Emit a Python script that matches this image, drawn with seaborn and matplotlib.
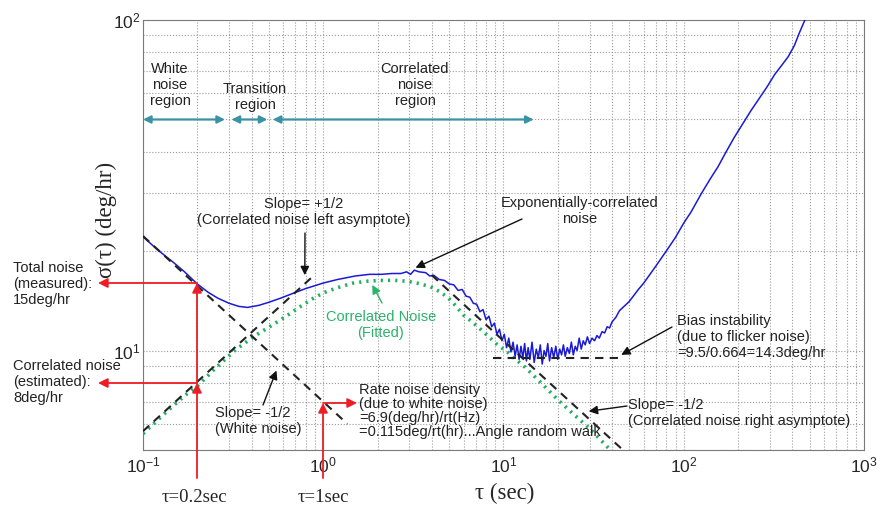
import numpy as np
import pandas as pd
import matplotlib
matplotlib.use("Agg")
import matplotlib.pyplot as plt
import seaborn as sns

# ---------------- data ----------------
measured_tau = [0.1, 0.12, 0.147, 0.17, 0.2, 0.23, 0.26, 0.3, 0.34, 0.38, 0.44, 0.5, 0.58,
                0.66, 0.8, 1.0, 1.2, 1.5, 1.8, 2.1, 2.4, 2.7, 2.9, 3.05, 3.2, 3.4, 3.7,
                3.9, 4.1, 4.4, 4.7, 5.0, 5.3, 5.6, 5.9, 6.2, 6.5, 6.8, 7.1, 7.4, 7.7,
                8.0, 8.3, 8.6, 8.9, 9.2, 9.5, 9.8, 10.1, 10.4, 10.7, 11.0, 11.3, 11.6,
                11.9, 12.2, 12.5, 12.8, 13.1, 13.4, 13.7, 14.0, 14.4, 14.8, 15.2, 15.6,
                16.0, 16.4, 16.8, 17.2, 17.6, 18.0, 18.5, 19.0, 19.5, 20.0, 20.5, 21.0,
                21.5, 22.0, 22.6, 23.2, 23.8, 24.4, 25.0, 25.6, 26.3, 27.0, 27.7, 28.4,
                29.2, 30.0, 31.0, 32.0, 33.0, 34.0, 35.2, 36.4, 37.6, 38.8, 40.0, 42.0,
                44.0, 46.0, 48.0, 50.0, 53.0, 56.0, 60.0, 65.0, 70.0, 75.0, 81.0, 90.0,
                100, 110, 125, 140, 155, 170, 190, 210, 235, 260, 290, 320, 350, 380,
                410, 440, 470, 480]
measured_sigma = [22.1, 20.2, 18.5, 17.3, 15.9, 15.0, 14.4, 13.9, 13.6, 13.5, 13.7, 14.0, 14.4,
                  14.8, 15.4, 16.0, 16.4, 16.8, 17.0, 17.0, 17.1, 17.1, 17.3, 17.0, 17.5, 17.3, 17.2,
                  16.8, 16.9, 16.4, 16.3, 15.9, 15.8, 15.2, 15.3, 14.6, 14.5, 13.9, 13.8, 13.1, 13.3,
                  12.4, 12.7, 11.8, 12.1, 11.2, 11.6, 10.7, 11.2, 10.2, 10.9, 9.9, 10.6, 9.6,
                  10.4, 9.4, 10.3, 9.5, 10.5, 9.3, 10.2, 9.4, 10.6, 9.2, 10.1, 9.5,
                  10.4, 9.1, 10.0, 9.6, 10.5, 9.3, 10.2, 9.5, 10.3, 9.4, 10.1, 9.7,
                  10.4, 9.6, 10.2, 9.8, 10.6, 9.7, 10.3, 10.0, 10.9, 10.1, 10.7, 10.4,
                  11.0, 10.5, 10.9, 10.7, 11.1, 10.9, 11.4, 11.3, 11.8, 11.7, 12.2, 12.6,
                  13.2, 13.5, 13.8, 14.1, 14.7, 15.3, 16.0, 17.0, 18.0, 19.0, 20.2, 22.0,
                  24.3, 26.3, 29.8, 33.0, 36.0, 39.5, 44.0, 48.0, 53.0, 57.5, 62.8, 68.5, 73.0, 77.5,
                  83.5, 92.0, 100.0, 103.0]

fitted_tau = [0.1, 0.13, 0.17, 0.2, 0.25, 0.33, 0.42, 0.53, 0.65, 0.75, 0.9, 1.05, 1.25, 1.47,
              1.75, 2.07, 2.5, 2.93, 3.3, 3.93, 4.4, 4.89, 5.4, 6.0, 6.7, 7.45, 8.3, 9.26,
              10.5, 11.4, 12.9, 16.1, 20.0, 24.6, 30.4, 37.8, 40.0]
fitted_sigma = [5.6, 6.4, 7.3, 7.8, 8.8, 10.1, 11.1, 12.0, 12.9, 13.6, 14.5, 15.1, 15.6, 16.0,
                16.2, 16.3, 16.3, 16.2, 16.0, 15.6, 15.1, 14.5, 13.7, 12.8, 12.2, 11.6, 11.0, 10.4,
                9.9, 9.5, 9.0, 8.0, 7.1, 6.4, 5.77, 5.1, 4.95]

white_tau = [0.1, 1.36]
white_sigma = [22.2, 6.0]
left_asym_tau = [0.1, 0.88]
left_asym_sigma = [5.7, 16.8]
right_asym_tau = [4.0, 46.0]
right_asym_sigma = [16.9, 5.0]
bias_tau = [8.7, 45.0]
bias_sigma = [9.5, 9.5]

region_names = ["White\nnoise\nregion", "Transition\nregion", "Correlated\nnoise\nregion"]
region_start = [0.1, 0.31, 0.525]
region_end = [0.285, 0.49, 14.7]
region_level = 50

x_ticks = [0.1, 1, 10, 100, 1000]
x_tick_labels = [r"$10^{-1}$", r"$10^{0}$", r"$10^{1}$", r"$10^{2}$", r"$10^{3}$"]
y_ticks = [10, 100]
y_tick_labels = [r"$10^{1}$", r"$10^{2}$"]

# ---------------- style ----------------
sns.set_style("white")
plt.rcParams["font.family"] = ["Liberation Sans", "DejaVu Sans"]
plt.rcParams["mathtext.fontset"] = "custom"
plt.rcParams["mathtext.rm"] = "Liberation Sans"
plt.rcParams["mathtext.it"] = "Liberation Sans:italic"
SERIF = ["Liberation Serif", "DejaVu Serif"]

W, H = 878, 505
fig = plt.figure(figsize=(W / 100, H / 100), dpi=100)
ax = fig.add_axes([143 / W, 1 - 450 / H, (864 - 143) / W, (450 - 20) / H])


def F(px, py):
    return (px / W, 1 - py / H)


ax.set_xscale("log")
ax.set_yscale("log")
ax.set_xlim(0.1, 1000)
ax.set_ylim(5, 100)

# grid
ax.grid(True, which="both", linestyle=":", color="#9a9a9a", linewidth=0.8)
ax.set_axisbelow(True)
for s in ax.spines.values():
    s.set_color("#7a7a7a")
    s.set_linewidth(0.8)

# lines
meas = pd.DataFrame({"tau": measured_tau, "sigma": measured_sigma})
fit = pd.DataFrame({"tau": fitted_tau, "sigma": fitted_sigma})
sns.lineplot(data=meas, x="tau", y="sigma", ax=ax, color="#1a1ad6", linewidth=1.1,
             sort=False, estimator=None, zorder=4)
sns.lineplot(data=fit, x="tau", y="sigma", ax=ax, color="#22b060", linewidth=2.6,
             linestyle=(0, (0.6, 1.4)), sort=False, estimator=None, zorder=3)
for tx, sy in [(white_tau, white_sigma), (left_asym_tau, left_asym_sigma),
               (right_asym_tau, right_asym_sigma), (bias_tau, bias_sigma)]:
    sns.lineplot(x=tx, y=sy, ax=ax, color="#222222", linewidth=1.5,
                 linestyle=(0, (4, 3)), sort=False, estimator=None, zorder=5)

# region arrows
teal = "#3a93a5"
for st, en in zip(region_start, region_end):
    ax.annotate("", xy=(en, region_level), xytext=(st, region_level),
                arrowprops=dict(arrowstyle="<|-|>", color=teal, lw=1.6,
                                mutation_scale=11, shrinkA=0, shrinkB=0))
fs = 10.5
txt_kw = dict(fontsize=fs, color="#222222")
fig.text(*F(170, 85), region_names[0], ha="center", va="center", linespacing=1.2, **txt_kw)
fig.text(*F(255, 97), region_names[1], ha="center", va="center", linespacing=1.2, **txt_kw)
fig.text(*F(415, 85), region_names[2], ha="center", va="center", linespacing=1.2, **txt_kw)

# ticks
ax.set_xticks(x_ticks)
ax.set_xticklabels(x_tick_labels)
ax.set_yticks(y_ticks)
ax.set_yticklabels(y_tick_labels)
ax.tick_params(axis="x", which="major", labelsize=12.5, direction="in", length=4,
               color="#7a7a7a", pad=4)
ax.tick_params(axis="y", which="major", labelsize=12.5, direction="in", length=4,
               color="#7a7a7a", pad=2)
ax.tick_params(axis="both", which="minor", direction="in", length=2.5, color="#7a7a7a")
ax.yaxis.set_minor_formatter(matplotlib.ticker.NullFormatter())
ax.xaxis.set_minor_formatter(matplotlib.ticker.NullFormatter())
ax.set_xlabel("")
ax.set_ylabel("")

fig.text(*F(505, 493), "τ (sec)", family=SERIF, fontsize=16.5, ha="center", va="center")
fig.text(*F(106, 220), "σ(τ) (deg/hr)", family=SERIF, fontsize=16.5, ha="center",
         va="center", rotation=90)

# black annotations
black_arrow = dict(arrowstyle="-|>", color="#111111", lw=1.0, mutation_scale=13,
                   shrinkA=0, shrinkB=0)
fig.text(*F(304, 212), "Slope= +1/2\n(Correlated noise left asymptote)", ha="center",
         va="center", linespacing=1.1, **txt_kw)
ax.annotate("", xy=(0.79, 16.9), xytext=F(305, 233), textcoords="figure fraction",
            arrowprops=black_arrow)

fig.text(*F(580, 211), "Exponentially-correlated\nnoise", ha="center", va="center",
         linespacing=1.1, **txt_kw)
ax.annotate("", xy=(3.25, 17.8), xytext=F(522, 219), textcoords="figure fraction",
            arrowprops=black_arrow)

fig.text(*F(381, 325), "Correlated Noise\n(Fitted)", ha="center", va="center",
         linespacing=1.1, fontsize=fs, color="#2bb36b")
ax.annotate("", xy=(1.87, 15.8), xytext=F(382, 303), textcoords="figure fraction",
            arrowprops=dict(black_arrow, color="#2bb36b"))

fig.text(*F(215, 421), "Slope= -1/2\n(White noise)", ha="left", va="center",
         linespacing=1.1, **txt_kw)
ax.annotate("", xy=(0.55, 8.7), xytext=F(263, 405), textcoords="figure fraction",
            arrowprops=black_arrow)

fig.text(*F(359, 411), "Rate noise density\n(due to white noise)\n=6.9(deg/hr)/rt(Hz)\n"
         "=0.115deg/rt(hr)...Angle random walk", ha="left", va="center",
         linespacing=1.0, **txt_kw)

fig.text(*F(677, 337), "Bias instability\n(due to flicker noise)\n=9.5/0.664=14.3deg/hr",
         ha="left", va="center", linespacing=1.2, **txt_kw)
ax.annotate("", xy=(45, 9.7), xytext=F(672, 327), textcoords="figure fraction",
            arrowprops=black_arrow)

fig.text(*F(628, 413), "Slope= -1/2\n(Correlated noise right asymptote)", ha="left",
         va="center", linespacing=1.2, **txt_kw)
ax.annotate("", xy=(29.7, 6.55), xytext=F(627, 406), textcoords="figure fraction",
            arrowprops=black_arrow)

# left texts
fig.text(*F(13, 284), "Total noise\n(measured):\n15deg/hr", ha="left", va="center",
         linespacing=1.2, **txt_kw)
fig.text(*F(13, 382), "Correlated noise\n(estimated):\n8deg/hr", ha="left", va="center",
         linespacing=1.2, **txt_kw)

# red arrows
red = "#ee1c25"
red_arrow = dict(arrowstyle="-|>", color=red, lw=1.3, mutation_scale=14, shrinkA=0, shrinkB=0)
for (x0, y0), (x1, y1), st in [
    ((197, 478), (197, 383), red_arrow),
    ((197, 383), (197, 283), red_arrow),
    ((197, 283), (98, 283), red_arrow),
    ((197, 383), (98, 383), red_arrow),
    ((323, 478), (323, 403), red_arrow),
    ((323, 403), (357, 403), red_arrow),
]:
    fig.add_artist(matplotlib.patches.FancyArrowPatch(F(x0, y0), F(x1, y1),
                                                      transform=fig.transFigure, **st))

fig.text(*F(194, 497), "τ=0.2sec", family=SERIF, fontsize=13.5, ha="center", va="center")
fig.text(*F(323, 497), "τ=1sec", family=SERIF, fontsize=13.5, ha="center", va="center")

fig.savefig("out.png", dpi=100)
